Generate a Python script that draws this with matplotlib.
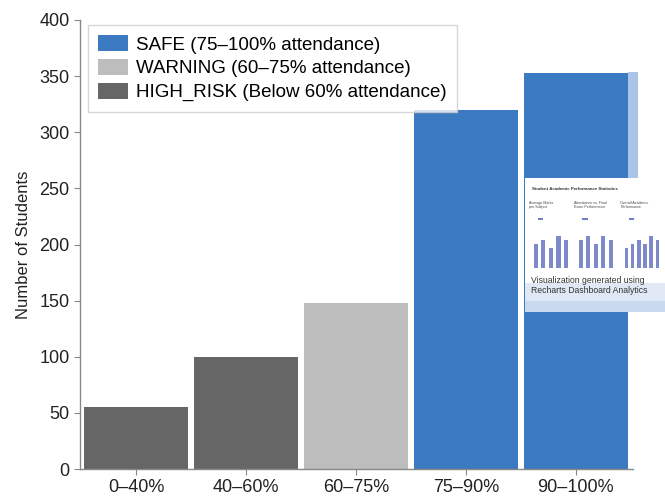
import matplotlib
matplotlib.use("Agg")
import matplotlib.pyplot as plt
from matplotlib.patches import Patch, Rectangle

plt.rcParams['font.family'] = ['Liberation Sans', 'DejaVu Sans']

# Attendance buckets and student counts
categories = ["0–40%", "40–60%", "60–75%", "75–90%", "90–100%"]
students = [55, 100, 148, 320, 353]
risk_level = ["HIGH_RISK", "HIGH_RISK", "WARNING", "SAFE", "SAFE"]

colors = {"SAFE": "#3b79c1", "WARNING": "#bdbdbd", "HIGH_RISK": "#666666"}
legend_labels = {
    "SAFE": "SAFE (75–100% attendance)",
    "WARNING": "WARNING (60–75% attendance)",
    "HIGH_RISK": "HIGH_RISK (Below 60% attendance)",
}
y_ticks = [0, 50, 100, 150, 200, 250, 300, 350, 400]

# Small dashboard preview values (three mini panels)
mini_titles = ["Average Marks\nper Subject", "Attendance vs. Final\nExam Performance", "Overall Academic\nPerformance"]
mini_a = [6, 7, 5, 8, 7]
mini_b = [7, 8, 6, 8, 7]
mini_c = [5, 6, 7, 6, 8, 7]

fig = plt.figure(figsize=(6.65, 4.96), dpi=100)
ax = fig.add_axes([80 / 665, 27 / 496, 553 / 665, 449 / 496])

x = list(range(len(categories)))
ax.bar(x, students, width=0.95, color=[colors[r] for r in risk_level], zorder=2)

ax.set_xlim(-0.51, 4.52)
ax.set_ylim(0, 400)
ax.set_yticks(y_ticks)
ax.set_xticks(x)
ax.set_xticklabels(categories)
ax.tick_params(axis="both", labelsize=13, colors="#222222", length=4, color="#888888")
ax.set_ylabel("Number of Students", fontsize=12, color="#222222", labelpad=6)
for side in ["top", "right"]:
    ax.spines[side].set_visible(False)
for side in ["left", "bottom"]:
    ax.spines[side].set_color("#888888")
    ax.spines[side].set_linewidth(1.0)

handles = [Patch(facecolor=colors[k]) for k in ["SAFE", "WARNING", "HIGH_RISK"]]
leg = ax.legend(handles, [legend_labels[k] for k in ["SAFE", "WARNING", "HIGH_RISK"]],
                loc="upper left", bbox_to_anchor=(0.0145, 0.989), borderaxespad=0,
                fontsize=13.5, frameon=True, fancybox=False, edgecolor="#cccccc",
                handlelength=1.6, handleheight=0.9, handletextpad=0.4,
                labelspacing=0.3, borderpad=0.55)
leg.get_frame().set_linewidth(1.0)

# Dashboard preview card on the right
W, H = 665, 496
fig.patches.append(Rectangle((628 / W, 1 - 178 / H), 10 / W, 106 / H,
                             transform=fig.transFigure, facecolor="#a9c4e6",
                             edgecolor="none", zorder=3))
card = fig.add_axes([525 / W, 1 - 312 / H, 140 / W, 134 / H])
card.set_xlim(0, 1)
card.set_ylim(0, 1)
card.axis("off")
card.add_patch(Rectangle((0, 0), 1, 1, facecolor="#c9d9ee", edgecolor="none"))
card.add_patch(Rectangle((0, 0.2), 1, 0.8, facecolor="white", edgecolor="none"))
card.add_patch(Rectangle((0, 0.08), 1, 0.14, facecolor="#dfe8f4", edgecolor="none"))
card.text(0.05, 0.93, "Student Academic Performance Statistics", fontsize=3.2,
          fontweight="bold", color="#333333", va="top")
card.text(0.04, 0.2, "Visualization generated using\nRecharts Dashboard Analytics",
          fontsize=6.2, color="#333333", va="center", linespacing=1.1)

panels = [(0.03, mini_titles[0], mini_a), (0.35, mini_titles[1], mini_b), (0.68, mini_titles[2], mini_c)]
for px, title, vals in panels:
    card.text(px, 0.83, title, fontsize=2.6, color="#444444", va="top", linespacing=1.0)
    card.add_patch(Rectangle((px + 0.06, 0.69), 0.04, 0.015, facecolor="#6f7fc4", edgecolor="none"))
    pan = card.inset_axes([px + 0.02, 0.33, 0.27, 0.3])
    pan.bar(range(len(vals)), vals, width=0.55, color="#7d89c9")
    pan.set_ylim(0, 10)
    pan.set_xticks([])
    pan.set_yticks([])
    for s in pan.spines.values():
        s.set_visible(False)
    pan.set_facecolor("none")

fig.savefig("out.png", dpi=100)
